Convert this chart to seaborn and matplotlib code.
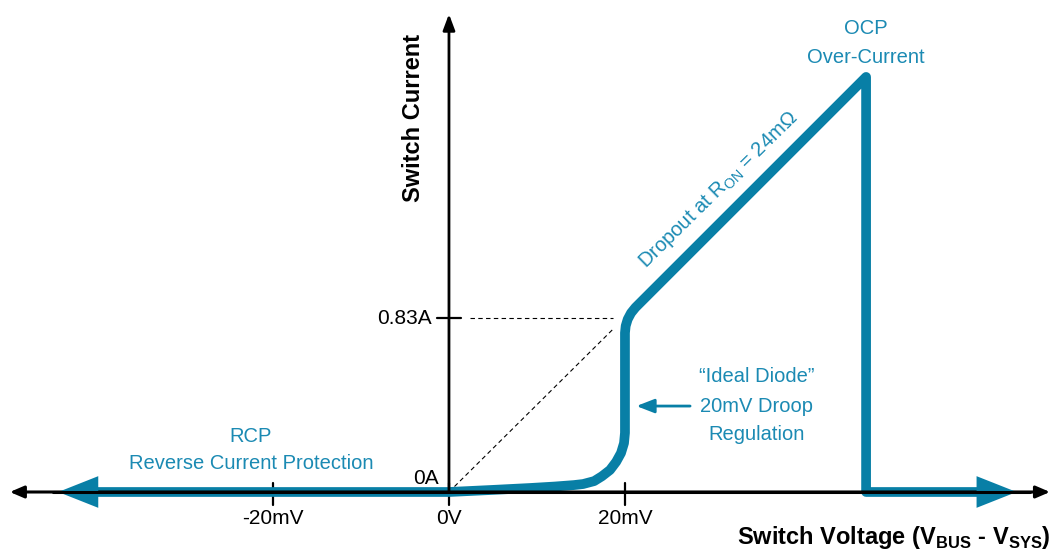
import numpy as np
import pandas as pd
import matplotlib
matplotlib.use('Agg')
import matplotlib.pyplot as plt
import seaborn as sns

# colours
LINE_BLUE = '#087fa6'
TEXT_BLUE = '#1b8ab3'
INK = '#000000'

sns.set_theme(style='white')
plt.rcParams['font.family'] = ['Liberation Sans', 'DejaVu Sans']
plt.rcParams['mathtext.fontset'] = 'custom'
plt.rcParams['mathtext.rm'] = 'Liberation Sans'
plt.rcParams['mathtext.bf'] = 'Liberation Sans:bold'

# switch characteristic: voltage (mV) vs current (A)
curve_mv = [-40.5, 0.0, 5.0, 9.2, 12.0, 14.2, 15.24, 16.5, 17.38, 18.3, 19.0,
            19.55, 19.89, 20.0, 20.0, 20.08, 20.31, 20.69, 21.19, 47.4, 47.4, 60.0]
curve_a = [0.0, 0.0, 0.010, 0.019, 0.026, 0.033, 0.038, 0.052, 0.075, 0.105, 0.144,
           0.186, 0.233, 0.282, 0.759, 0.792, 0.824, 0.854, 0.880, 1.98, 0.0, 0.0]

# arrow heads at the ends of the curve (tip, base)
rcp_tip, rcp_base = -44.4, -39.6
out_tip, out_base = 64.5, 59.4

# dashed guides
i_knee = 0.83
guide_h_mv = [2.4, 18.6]
guide_d_mv = [0.0, 18.6]
ron_a_per_mv = 1 / 24.0

# ticks
xticks_mv = [-20, 0, 20]
xtick_labels = ['-20mV', '0V', '20mV']

df = pd.DataFrame({'mv': curve_mv, 'amp': curve_a})

fig = plt.figure(figsize=(10.53, 5.5), dpi=100)
ax = fig.add_axes([0, 0, 1, 1])
ax.set_xlim(-51.02, 68.64)
ax.set_ylim(-0.2767, 2.347)
ax.axis('off')

# axes with arrows
ax.annotate('', xy=(68.3, 0), xytext=(-49.9, 0),
            arrowprops=dict(arrowstyle='<|-|>,head_length=0.7,head_width=0.3',
                            color=INK, lw=2.2, shrinkA=0, shrinkB=0))
ax.annotate('', xy=(0, 2.28), xytext=(0, 0),
            arrowprops=dict(arrowstyle='-|>,head_length=0.8,head_width=0.3',
                            color=INK, lw=2.0, shrinkA=0, shrinkB=0))
for xm in xticks_mv:
    ax.plot([xm, xm], [0.043, -0.062], color=INK, lw=1.6)
ax.plot([-1.36, 1.36], [i_knee, i_knee], color=INK, lw=1.6)

# dashed guides
ax.plot(guide_h_mv, [i_knee, i_knee], color=INK, lw=0.8, ls=(0, (4, 3)))
ax.plot(guide_d_mv, [v * ron_a_per_mv for v in guide_d_mv], color=INK, lw=0.8, ls=(0, (4, 3)))

# the curve
sns.lineplot(data=df, x='mv', y='amp', sort=False, estimator=None, ax=ax,
             color=LINE_BLUE, lw=7, solid_joinstyle='round', solid_capstyle='round')
ax.annotate('', xy=(rcp_tip, 0), xytext=(rcp_base, 0),
            arrowprops=dict(arrowstyle='-|>,head_length=2.4,head_width=0.95',
                            color=LINE_BLUE, lw=0, shrinkA=0, shrinkB=0))
ax.annotate('', xy=(out_tip, 0), xytext=(out_base, 0),
            arrowprops=dict(arrowstyle='-|>,head_length=2.4,head_width=0.95',
                            color=LINE_BLUE, lw=0, shrinkA=0, shrinkB=0))

# re-draw x axis line on top of the curve
ax.plot([-45, 66], [0, 0], color=INK, lw=2.2, zorder=5)

# tick labels
for xm, lab in zip(xticks_mv, xtick_labels):
    ax.text(xm, -0.125, lab, ha='center', va='center', fontsize=15, color=INK)
ax.text(-1.2, 0.065, '0A', ha='right', va='center', fontsize=15, color=INK)
ax.text(-2.0, i_knee, '0.83A', ha='right', va='center', fontsize=15, color=INK)

# axis titles
ax.text(-4.0, 1.785, 'Switch Current', rotation=90, ha='center', va='center',
        fontsize=17, fontweight='bold', color=INK)
ax.text(68.4, -0.215, r'Switch Voltage (V$_{\mathbf{BUS}}$ - V$_{\mathbf{SYS}}$)',
        ha='right', va='center', fontsize=17, fontweight='bold', color=INK)

# annotations
ax.text(-22.5, 0.267, 'RCP', ha='center', va='center', fontsize=14.5, color=TEXT_BLUE)
ax.text(-22.5, 0.134, 'Reverse Current Protection', ha='center', va='center', fontsize=14.5, color=TEXT_BLUE)
ax.text(47.4, 2.209, 'OCP', ha='center', va='center', fontsize=14.5, color=TEXT_BLUE)
ax.text(47.4, 2.075, 'Over-Current', ha='center', va='center', fontsize=14.5, color=TEXT_BLUE)
ax.text(35.0, 0.549, '\u201cIdeal Diode\u201d', ha='center', va='center', fontsize=14.5, color=TEXT_BLUE)
ax.text(35.0, 0.406, '20mV Droop', ha='center', va='center', fontsize=14.5, color=TEXT_BLUE)
ax.text(35.0, 0.272, 'Regulation', ha='center', va='center', fontsize=14.5, color=TEXT_BLUE)
ax.annotate('', xy=(21.3, 0.41), xytext=(27.4, 0.41),
            arrowprops=dict(arrowstyle='-|>,head_length=0.9,head_width=0.35',
                            color=LINE_BLUE, lw=2.0, shrinkA=0, shrinkB=0))
ax.text(30.6, 1.44, 'Dropout at R$_{\\rm ON}$ = 24m\u03a9',
        rotation=44.5, ha='center', va='center', fontsize=14.5, color=TEXT_BLUE)

fig.savefig('out.png', dpi=100)
